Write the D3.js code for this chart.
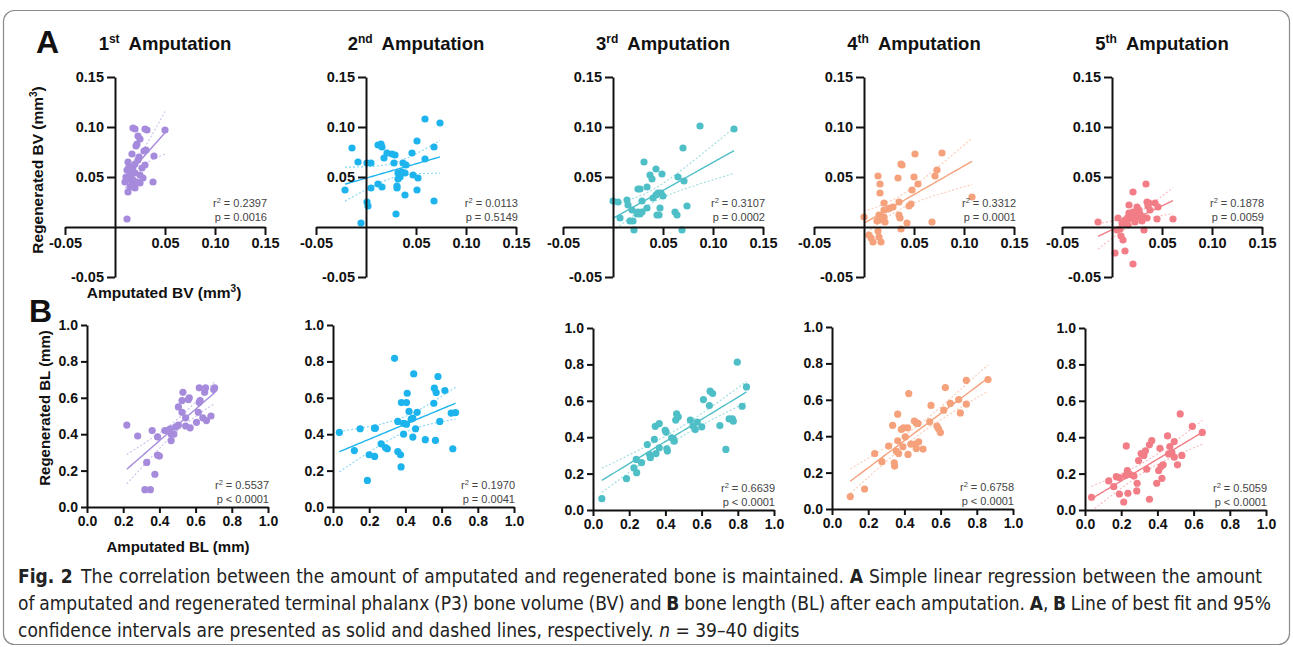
<!DOCTYPE html>
<html><head><meta charset="utf-8">
<script src="https://cdn.jsdelivr.net/npm/d3@7"></script>
<style>body{margin:0;background:#fff}svg{display:block}</style>
</head><body><svg id="c" width="1293" height="647"></svg>
<script>
// ---------------- DATA ----------------
const ordinals = ["1", "2", "3", "4", "5"];
const suffixes = ["st", "nd", "rd", "th", "th"];
const colors = ["#A68BDD", "#1DB4EE", "#4FBFC7", "#F5A17B", "#F27D86"];
const bvTicksX = [-0.05, 0.05, 0.10, 0.15];
const bvTicksY = [-0.05, 0.05, 0.10, 0.15];
const blTicks = [0.0, 0.2, 0.4, 0.6, 0.8, 1.0];
const bvR2 = ["0.2397", "0.0113", "0.3107", "0.3312", "0.1878"];
const bvP = ["p = 0.0016", "p = 0.5149", "p = 0.0002", "p = 0.0001", "p = 0.0059"];
const blR2 = ["0.5537", "0.1970", "0.6639", "0.6758", "0.5059"];
const blP = ["p < 0.0001", "p = 0.0041", "p < 0.0001", "p < 0.0001", "p < 0.0001"];

// Bone volume (mm^3): [amputated, regenerated]
const bv1 = [[0.012,0.008],[0.018,0.099],[0.020,0.098],[0.030,0.098],[0.032,0.097],[0.050,0.097],[0.023,0.091],[0.025,0.088],[0.022,0.083],[0.021,0.081],[0.031,0.077],[0.029,0.076],[0.017,0.073],[0.039,0.071],[0.023,0.067],[0.013,0.065],[0.020,0.063],[0.018,0.060],[0.027,0.059],[0.030,0.062],[0.012,0.057],[0.015,0.055],[0.020,0.054],[0.025,0.052],[0.011,0.050],[0.013,0.048],[0.028,0.049],[0.018,0.047],[0.022,0.045],[0.010,0.045],[0.017,0.043],[0.025,0.044],[0.038,0.045],[0.015,0.040],[0.020,0.039],[0.013,0.035],[0.016,0.052],[0.014,0.060],[0.024,0.070]];
const bv2 = [[0.059,0.108],[0.074,0.104],[-0.014,0.079],[0.012,0.082],[0.015,0.083],[0.016,0.080],[0.051,0.086],[0.068,0.080],[-0.008,0.065],[0.001,0.064],[0.005,0.064],[0.021,0.074],[0.026,0.073],[0.029,0.072],[0.018,0.069],[0.028,0.064],[0.037,0.064],[0.040,0.062],[0.046,0.074],[0.059,0.068],[0.032,0.054],[0.036,0.055],[0.039,0.054],[0.034,0.050],[0.032,0.048],[0.047,0.052],[0.052,0.049],[0.012,0.043],[0.016,0.040],[0.031,0.041],[0.031,0.039],[0.005,0.039],[-0.021,0.037],[0.051,0.037],[0.039,0.032],[0.001,0.025],[0.002,0.021],[0.068,0.026],[0.030,0.013],[-0.005,0.004]];
const bv3 = [[0.087,0.101],[0.121,0.098],[0.070,0.079],[0.031,0.065],[0.043,0.058],[0.037,0.052],[0.039,0.048],[0.049,0.053],[0.065,0.050],[0.071,0.046],[0.034,0.040],[0.025,0.038],[0.027,0.038],[0.040,0.029],[0.043,0.032],[0.045,0.034],[0.048,0.034],[0.050,0.031],[0.029,0.026],[0.000,0.026],[0.005,0.025],[0.014,0.027],[0.015,0.022],[0.019,0.017],[0.025,0.015],[0.029,0.015],[0.034,0.019],[0.024,0.013],[0.027,0.013],[0.044,0.012],[0.046,0.012],[0.047,0.019],[0.062,0.015],[0.064,0.012],[0.074,0.021],[0.007,0.009],[0.017,0.006],[0.020,0.006],[0.021,-0.003],[0.069,-0.003]];
const bv4 = [[0.051,0.073],[0.078,0.074],[0.037,0.063],[0.038,0.062],[0.073,0.057],[0.071,0.051],[0.014,0.051],[0.034,0.049],[0.050,0.050],[0.054,0.043],[0.016,0.043],[0.048,0.037],[0.016,0.034],[0.035,0.025],[0.020,0.024],[0.047,0.023],[0.045,0.021],[0.024,0.018],[0.026,0.019],[0.029,0.020],[0.020,0.017],[0.000,0.010],[0.015,0.012],[0.018,0.010],[0.020,0.010],[0.035,0.012],[0.036,0.009],[0.013,0.006],[0.016,0.007],[0.021,0.005],[0.043,0.004],[0.068,0.005],[0.014,-0.004],[0.037,-0.002],[0.005,-0.008],[0.007,-0.011],[0.009,-0.015],[0.015,-0.010],[0.017,-0.015],[0.108,0.030]];
const bv5 = [[0.034,0.043],[0.021,0.035],[0.035,0.025],[0.037,0.024],[0.043,0.024],[0.046,0.020],[0.017,0.022],[0.025,0.020],[0.027,0.017],[0.021,0.015],[0.017,0.014],[0.038,0.017],[0.028,0.013],[0.031,0.010],[0.035,0.009],[0.016,0.010],[0.018,0.009],[0.013,0.007],[0.006,0.009],[0.045,0.008],[0.061,0.008],[-0.014,0.005],[0.010,0.004],[0.014,0.003],[0.023,0.005],[0.005,-0.003],[0.008,-0.002],[0.032,-0.003],[0.009,-0.009],[0.011,-0.013],[0.013,-0.024],[0.003,-0.026],[0.021,-0.037],[0.025,0.010],[0.020,0.012],[0.026,0.014],[0.030,0.006],[0.016,0.002],[0.036,0.021],[0.022,0.008]];

// Bone length (mm): [amputated, regenerated]
const bl1 = [[0.22,0.45],[0.28,0.39],[0.36,0.42],[0.39,0.385],[0.39,0.285],[0.40,0.28],[0.33,0.245],[0.375,0.18],[0.32,0.095],[0.35,0.095],[0.43,0.42],[0.46,0.43],[0.465,0.40],[0.48,0.40],[0.465,0.365],[0.505,0.45],[0.505,0.55],[0.525,0.585],[0.53,0.63],[0.525,0.52],[0.545,0.49],[0.56,0.59],[0.565,0.60],[0.545,0.445],[0.57,0.435],[0.605,0.465],[0.615,0.52],[0.62,0.575],[0.625,0.585],[0.62,0.655],[0.65,0.63],[0.655,0.655],[0.64,0.49],[0.66,0.475],[0.685,0.50],[0.705,0.655],[0.70,0.645],[0.49,0.44],[0.45,0.42]];
const bl2 = [[0.035,0.41],[0.118,0.31],[0.15,0.43],[0.229,0.433],[0.234,0.433],[0.20,0.287],[0.23,0.278],[0.19,0.146],[0.266,0.347],[0.29,0.327],[0.30,0.32],[0.34,0.817],[0.358,0.47],[0.358,0.305],[0.373,0.287],[0.376,0.22],[0.378,0.574],[0.406,0.574],[0.39,0.46],[0.406,0.455],[0.39,0.40],[0.41,0.625],[0.42,0.525],[0.432,0.483],[0.441,0.488],[0.441,0.384],[0.446,0.731],[0.456,0.43],[0.465,0.52],[0.51,0.37],[0.56,0.653],[0.557,0.57],[0.57,0.629],[0.566,0.366],[0.58,0.717],[0.59,0.47],[0.618,0.64],[0.653,0.516],[0.677,0.519],[0.662,0.32]];
const bl3 = [[0.049,0.062],[0.185,0.172],[0.226,0.232],[0.239,0.278],[0.241,0.205],[0.268,0.26],[0.30,0.36],[0.313,0.305],[0.317,0.287],[0.339,0.388],[0.344,0.46],[0.366,0.475],[0.348,0.31],[0.366,0.342],[0.399,0.437],[0.404,0.428],[0.408,0.336],[0.411,0.324],[0.435,0.397],[0.444,0.391],[0.449,0.378],[0.457,0.494],[0.462,0.528],[0.471,0.512],[0.538,0.494],[0.553,0.461],[0.565,0.442],[0.576,0.483],[0.601,0.457],[0.61,0.607],[0.643,0.574],[0.647,0.653],[0.661,0.64],[0.701,0.464],[0.734,0.333],[0.752,0.501],[0.77,0.501],[0.775,0.488],[0.797,0.812],[0.824,0.57],[0.848,0.676]];
const bl4 = [[0.101,0.068],[0.18,0.11],[0.236,0.305],[0.276,0.26],[0.313,0.346],[0.335,0.459],[0.344,0.254],[0.346,0.236],[0.355,0.318],[0.363,0.521],[0.363,0.375],[0.368,0.305],[0.383,0.437],[0.396,0.446],[0.392,0.342],[0.405,0.397],[0.418,0.446],[0.424,0.634],[0.42,0.30],[0.436,0.356],[0.455,0.483],[0.466,0.473],[0.46,0.356],[0.466,0.333],[0.479,0.369],[0.475,0.47],[0.503,0.329],[0.54,0.479],[0.547,0.569],[0.58,0.455],[0.589,0.439],[0.599,0.42],[0.617,0.543],[0.626,0.667],[0.654,0.58],[0.70,0.601],[0.709,0.528],[0.742,0.707],[0.742,0.576],[0.862,0.711]];
const bl5 = [[0.036,0.07],[0.131,0.16],[0.159,0.128],[0.173,0.183],[0.19,0.178],[0.19,0.088],[0.214,0.044],[0.228,0.352],[0.224,0.189],[0.234,0.217],[0.237,0.092],[0.27,0.187],[0.286,0.105],[0.288,0.147],[0.296,0.272],[0.325,0.30],[0.334,0.325],[0.341,0.224],[0.356,0.059],[0.356,0.358],[0.369,0.382],[0.396,0.147],[0.407,0.217],[0.414,0.339],[0.425,0.174],[0.432,0.248],[0.42,0.239],[0.456,0.407],[0.462,0.308],[0.469,0.349],[0.48,0.316],[0.493,0.376],[0.493,0.29],[0.511,0.248],[0.526,0.528],[0.535,0.30],[0.593,0.459],[0.648,0.426],[0.25,0.195],[0.31,0.31]];

const bvSets = [bv1, bv2, bv3, bv4, bv5];
const blSets = [bl1, bl2, bl3, bl4, bl5];

const captionLines = [
  [["Fig. 2", "b"], ["\u2002The correlation between the amount of amputated and regenerated bone is maintained. ", ""], ["A", "b"], [" Simple linear regression between the amount", ""]],
  [["of amputated and regenerated terminal phalanx (P3) bone volume (BV) and ", ""], ["B", "b"], [" bone length (BL) after each amputation. ", ""], ["A", "b"], [", ", ""], ["B", "b"], [" Line of best fit and 95%", ""]],
  [["confidence intervals are presented as solid and dashed lines, respectively. ", ""], ["n", "i"], [" = 39\u201340 digits", ""]]
];

// ---------------- LAYOUT ----------------
const svg = d3.select("#c");
const FONT = "'Liberation Sans', Arial, Helvetica, sans-serif";
const aX = [[65, 265], [316, 516], [563, 763], [814, 1014], [1062, 1262]];
const aY = [277, 77];
const bX0 = [87, 333, 593, 832, 1085];
const bY0 = [507, 507, 510, 509, 510];
const bW = 181, bH = 182;

// frame
svg.append("rect").attr("x", 3.5).attr("y", 10.5).attr("width", 1286).attr("height", 634)
  .attr("rx", 11).attr("fill", "none").attr("stroke", "#8a8a8a").attr("stroke-width", 1.2);

function regression(pts) {
  const n = pts.length;
  const mx = d3.mean(pts, d => d[0]), my = d3.mean(pts, d => d[1]);
  const sxx = d3.sum(pts, d => (d[0] - mx) ** 2);
  const sxy = d3.sum(pts, d => (d[0] - mx) * (d[1] - my));
  const b = sxy / sxx, a = my - b * mx;
  const sse = d3.sum(pts, d => (d[1] - a - b * d[0]) ** 2);
  const s = Math.sqrt(sse / (n - 2));
  const t = 1.96 + 2.4 / (n - 2);
  const [x0, x1] = d3.extent(pts, d => d[0]);
  const xs = d3.range(61).map(i => x0 + (x1 - x0) * i / 60);
  const fitL = xs.map(x => [x, a + b * x]);
  const hw = x => t * s * Math.sqrt(1 / n + (x - mx) ** 2 / sxx);
  const up = xs.map(x => [x, a + b * x + hw(x)]);
  const lo = xs.map(x => [x, a + b * x - hw(x)]);
  return {fitL, up, lo};
}

function styleAxis(g, fs) {
  g.select(".domain").attr("stroke", "#111").attr("stroke-width", 2);
  g.selectAll(".tick line").attr("stroke", "#111").attr("stroke-width", 2);
  g.selectAll(".tick text").attr("font-family", FONT).attr("font-weight", "bold")
    .attr("font-size", fs).attr("fill", "#111");
}

function drawPanel(pts, x, y, color, xAxisY, yAxisX, xTicks, yTicks, fmt, tickSz, pad, fs, r2, pText, annX, annY) {
  const g = svg.append("g");
  const reg = regression(pts);
  const line = d3.line().x(d => x(d[0])).y(d => y(d[1]));
  g.selectAll("circle").data(pts).join("circle")
    .attr("cx", d => x(d[0])).attr("cy", d => y(d[1])).attr("r", 3.6)
    .attr("fill", color);
  [reg.up, reg.lo].forEach(c => g.append("path").attr("d", line(c)).attr("fill", "none")
    .attr("stroke", color).attr("stroke-opacity", 0.55).attr("stroke-width", 1.1).attr("stroke-dasharray", "2,2"));
  g.append("path").attr("d", line(reg.fitL)).attr("fill", "none").attr("stroke", color).attr("stroke-width", 1.4);

  const gx = g.append("g").attr("transform", `translate(0,${xAxisY})`)
    .call(d3.axisBottom(x).tickValues(xTicks).tickFormat(fmt).tickSize(tickSz).tickSizeOuter(0).tickPadding(pad));
  styleAxis(gx, fs);
  const gy = g.append("g").attr("transform", `translate(${yAxisX},0)`)
    .call(d3.axisLeft(y).tickValues(yTicks).tickFormat(fmt).tickSize(tickSz).tickSizeOuter(0).tickPadding(pad));
  styleAxis(gy, fs);

  const t1 = g.append("text").attr("x", annX).attr("y", annY).attr("text-anchor", "end")
    .attr("font-family", FONT).attr("font-size", 11).attr("fill", "#444");
  t1.append("tspan").text("r");
  t1.append("tspan").attr("dy", -4).attr("font-size", 7.5).text("2");
  t1.append("tspan").attr("dy", 4).text(" = " + r2);
  g.append("text").attr("x", annX).attr("y", annY + 14).attr("text-anchor", "end")
    .attr("font-family", FONT).attr("font-size", 11).attr("fill", "#444").text(pText);
}

// Row A
bvSets.forEach((pts, i) => {
  const x = d3.scaleLinear().domain([-0.05, 0.15]).range(aX[i]);
  const y = d3.scaleLinear().domain([-0.05, 0.15]).range(aY);
  drawPanel(pts, x, y, colors[i], y(0), x(0), bvTicksX, bvTicksY, d => d.toFixed(2), 8, 3, 14.5,
    bvR2[i], bvP[i], aX[i][1] + 2, y(0) - 20);
  const cx = (aX[i][0] + aX[i][1]) / 2;
  const t = svg.append("text").attr("x", cx).attr("y", 50).attr("text-anchor", "middle")
    .attr("font-family", FONT).attr("font-weight", "bold").attr("font-size", 18.5).attr("fill", "#111");
  t.append("tspan").text(ordinals[i]);
  t.append("tspan").attr("font-size", 12).attr("dy", -7).text(suffixes[i]);
  t.append("tspan").attr("dy", 7).attr("dx", 9).text("Amputation");
});

// Row B
blSets.forEach((pts, i) => {
  const x = d3.scaleLinear().domain([0, 1]).range([bX0[i], bX0[i] + bW]);
  const y = d3.scaleLinear().domain([0, 1]).range([bY0[i], bY0[i] - bH]);
  drawPanel(pts, x, y, colors[i], y(0), x(0), blTicks, blTicks, d => d.toFixed(1), 6, 3, 14,
    blR2[i], blP[i], bX0[i] + bW + 1, bY0[i] - 18);
});

// panel letters
svg.append("text").attr("x", 36).attr("y", 53).attr("font-family", FONT).attr("font-weight", "bold")
  .attr("font-size", 32).attr("fill", "#111").text("A");
svg.append("text").attr("x", 29).attr("y", 322).attr("font-family", FONT).attr("font-weight", "bold")
  .attr("font-size", 32).attr("fill", "#111").text("B");

// axis titles
function axisTitle(x, y, rot, parts, fs) {
  const t = svg.append("text").attr("transform", `translate(${x},${y}) rotate(${rot})`)
    .attr("text-anchor", "middle").attr("font-family", FONT).attr("font-weight", "bold")
    .attr("font-size", fs).attr("fill", "#111");
  parts.forEach(p => {
    if (p[1] === "sup") {
      t.append("tspan").attr("font-size", fs * 0.65).attr("dy", -6).text(p[0]);
    } else if (p[1] === "after") {
      t.append("tspan").attr("dy", 6).text(p[0]);
    } else t.append("tspan").text(p[0]);
  });
}
axisTitle(43, 170, -90, [["Regenerated BV (mm", ""], ["3", "sup"], [")", "after"]], 15.5);
axisTitle(164, 298, 0, [["Amputated BV (mm", ""], ["3", "sup"], [")", "after"]], 15.5);
axisTitle(50, 408, -90, [["Regenerated BL (mm)", ""]], 15);
axisTitle(178, 552, 0, [["Amputated BL (mm)", ""]], 15);

// caption: one text per line; font size fitted to line 1, word spacing justifies lines 1-2
const capY = [583, 610, 637];
const capLen = [1244, 1253, null];
const CAPFONT = "'Liberation Sans Narrow','DejaVu Sans Condensed','Liberation Sans',Arial,sans-serif";
const capTexts = captionLines.map((parts, i) => {
  const t = svg.append("text").attr("x", 18).attr("y", capY[i])
    .attr("font-family", CAPFONT).attr("font-size", 17).attr("fill", "#222");
  parts.forEach(p => {
    const s = t.append("tspan").text(p[0]);
    if (p[1] === "b") s.attr("font-weight", "bold");
    if (p[1] === "i") s.attr("font-style", "italic");
  });
  return t;
});
const w0 = capTexts[0].node().getComputedTextLength();
const capFs = Math.min(19, 17 * capLen[0] / w0);
capTexts.forEach((t, i) => {
  t.attr("font-size", capFs);
  if (capLen[i]) {
    const w = t.node().getComputedTextLength();
    const nSp = (t.text().match(/ /g) || []).length;
    t.attr("word-spacing", Math.max(-2.5, (capLen[i] - w) / nSp));
  }
});
</script></body></html>
